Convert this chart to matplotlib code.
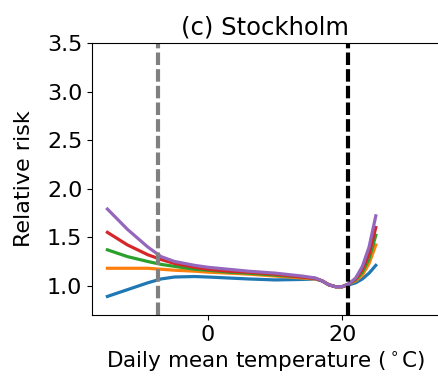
import matplotlib.pyplot as plt

temps = [-15, -12, -9, -7, -5, -2, 0, 3, 6, 10, 14, 16, 17, 18, 19, 20, 21, 22, 23, 24, 25]

rr_blue = [0.89, 0.96, 1.03, 1.07, 1.09, 1.095, 1.09, 1.08, 1.07, 1.06, 1.065, 1.07, 1.05, 1.01, 0.99, 0.99, 1.01, 1.03, 1.07, 1.13, 1.21]
rr_orange = [1.18, 1.18, 1.18, 1.17, 1.16, 1.15, 1.14, 1.13, 1.12, 1.10, 1.08, 1.07, 1.05, 1.01, 0.99, 0.99, 1.02, 1.05, 1.11, 1.23, 1.42]
rr_green = [1.37, 1.30, 1.25, 1.22, 1.20, 1.17, 1.16, 1.14, 1.13, 1.11, 1.09, 1.075, 1.05, 1.01, 0.99, 0.99, 1.02, 1.06, 1.14, 1.28, 1.52]
rr_red = [1.55, 1.42, 1.32, 1.27, 1.23, 1.19, 1.17, 1.15, 1.14, 1.12, 1.09, 1.075, 1.05, 1.01, 0.99, 0.99, 1.02, 1.07, 1.17, 1.33, 1.60]
rr_purple = [1.79, 1.58, 1.40, 1.30, 1.25, 1.21, 1.19, 1.17, 1.15, 1.13, 1.10, 1.08, 1.05, 1.01, 0.99, 0.99, 1.02, 1.08, 1.20, 1.40, 1.72]

series = [rr_blue, rr_orange, rr_green, rr_red, rr_purple]
colors = ['C0', 'C1', 'C2', 'C3', 'C4']

cold_threshold = -7.4
mmt = 20.8

xticks = [0, 20]
yticks = [1.0, 1.5, 2.0, 2.5, 3.0, 3.5]

fig = plt.figure(figsize=(4.38, 3.84), dpi=100)
ax = fig.add_axes([0.21, 0.18, 0.792, 0.708])

for vals, c in zip(series, colors):
    ax.plot(temps, vals, color=c, lw=2.3)

ax.axvline(cold_threshold, color='gray', lw=3, ls=(0, (3.0, 1.0)))
ax.axvline(mmt, color='black', lw=3, ls=(0, (3.0, 1.0)))

ax.set_xlim(-17.3, 34.4)
ax.set_ylim(0.7, 3.5)
ax.set_xticks(xticks)
ax.set_yticks(yticks)
ax.tick_params(labelsize=16)
ax.set_title("(c) Stockholm", fontsize=17.5)
ax.set_xlabel(r"Daily mean temperature ($^\circ$C)", fontsize=15.5)
ax.set_ylabel("Relative risk", fontsize=16, labelpad=9)

plt.savefig('out.png', dpi=100)
